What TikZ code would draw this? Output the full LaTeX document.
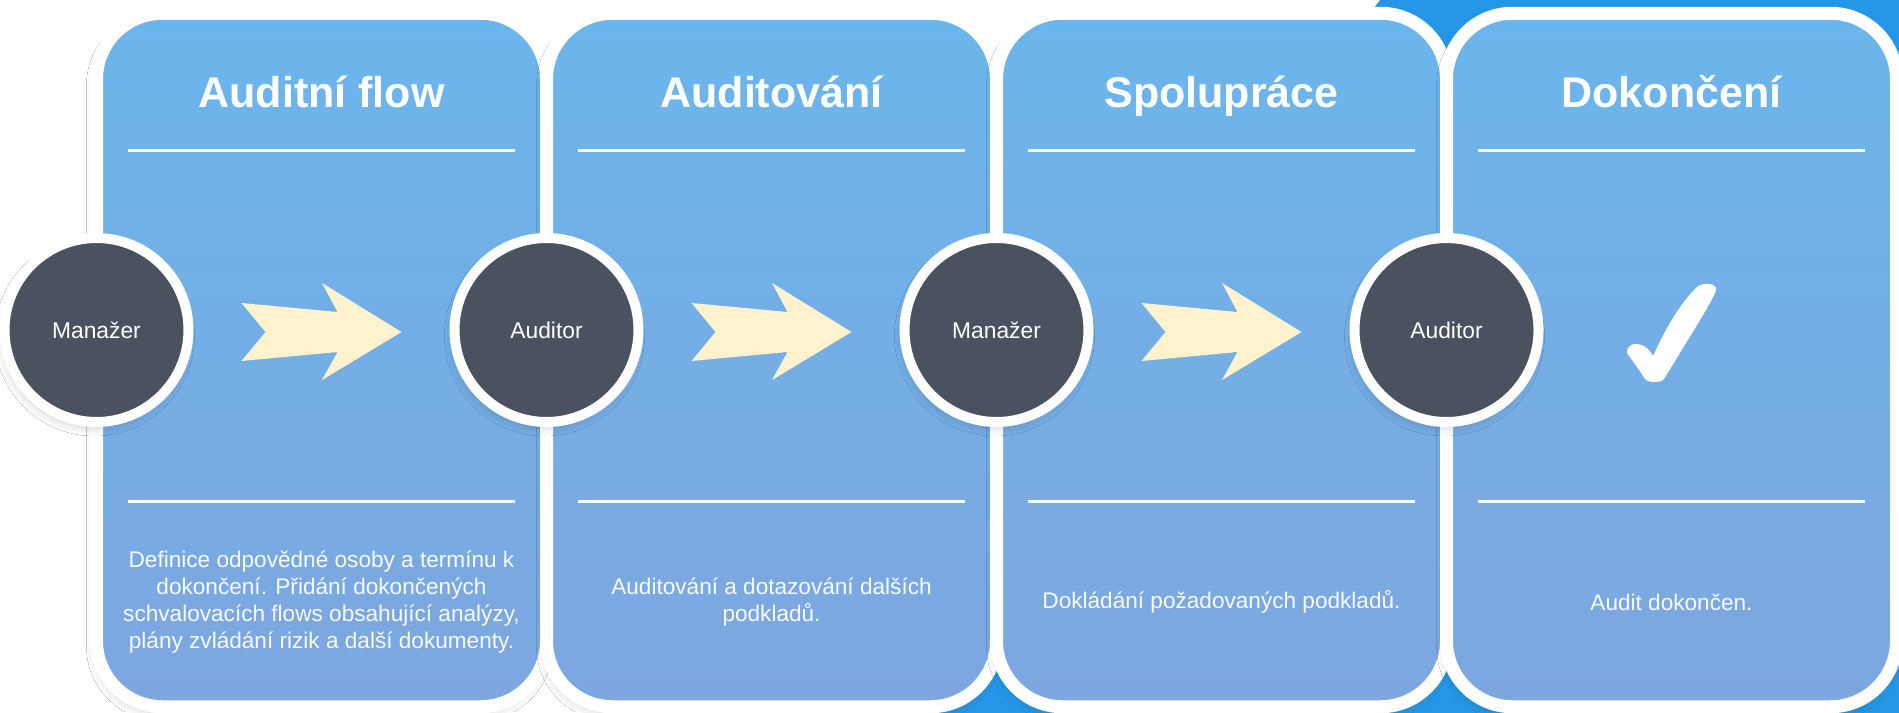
\documentclass[tikz,border=0pt]{standalone}
\usepackage{fontspec}
\setmainfont{Liberation Sans}
\usepackage{xcolor}
\usepackage{tikz}
\usetikzlibrary{calc,shadows.blur}
\definecolor{PT}{HTML}{6AB6EC}
\definecolor{PB}{HTML}{7EA6DF}
\definecolor{BG}{HTML}{2596E6}
\definecolor{CI}{HTML}{4A5260}
\definecolor{AR}{HTML}{FFF2CC}
\tikzset{%
  panel/.style={draw=white, line width=6.5pt, rounded corners=33pt, top color=PT, bottom color=PB, minimum width=225pt, minimum height=346.75pt, inner sep=0pt, blur shadow={shadow xshift=-1pt, shadow yshift=-3pt, shadow blur radius=4pt, shadow opacity=18}},%
  role/.style={circle, draw=white, line width=5pt, fill=CI, minimum size=92pt, inner sep=0pt, text=white, font=\fontsize{11.4}{13}\selectfont, blur shadow={shadow xshift=-1pt, shadow yshift=-3pt, shadow blur radius=4pt, shadow opacity=18}},%
  steptitle/.style={anchor=base, text=white, font=\fontsize{21.5}{26}\selectfont\bfseries},%
  steptext/.style={align=center, text=white!95!PT, font=\fontsize{11.3}{13.6}\selectfont},%
  steprule/.style={draw=white, line width=1.5pt},%
  blockarrow/.pic={\fill[AR] (-80,-29) -- (16,-20) -- (0.5,-49) -- (80,0) -- (0.5,48) -- (16,20) -- (-80,29) -- (-56,0) -- cycle;}%
}

\begin{document}
\begin{tikzpicture}[x=0.5pt, y=-0.5pt]%
\useasboundingbox (0,0) rectangle (1899,712);%
\fill[white] (0,0) rectangle (1899,712);%
\fill[BG] (1380,0) -- (1905,0) -- (1905,715) -- (848,715) -- cycle;%
% panels
\node[panel] (p1) at (321.5,360) {};%
\node[panel] (p2) at (771.5,360) {};%
\node[panel] (p3) at (1221.5,360) {};%
\node[panel] (p4) at (1671.5,360) {};%
% titles and rules
\node[steptitle] (t1) at (321.5,107) {Auditní flow};%
\node[steptitle] (t2) at (771.5,107) {Auditování};%
\node[steptitle] (t3) at (1221.5,107) {Spolupráce};%
\node[steptitle] (t4) at (1671.5,107) {Dokončení};%
\draw[steprule] (128,150) -- (515,150);%
\draw[steprule] (578,150) -- (965,150);%
\draw[steprule] (1028,150) -- (1415,150);%
\draw[steprule] (1478,150) -- (1865,150);%
\draw[steprule] (128,501) -- (515,501);%
\draw[steprule] (578,501) -- (965,501);%
\draw[steprule] (1028,501) -- (1415,501);%
\draw[steprule] (1478,501) -- (1865,501);%
% descriptions
\node[steptext] (d1) at (321.5,602) {Definice odpovědné osoby a termínu k\\dokončení. Přidání dokončených\\schvalovacích flows obsahující analýzy,\\plány zvládání rizik a další dokumenty.};%
\node[steptext] (d2) at (771.5,602) {Auditování a dotazování dalších\\podkladů.};%
\node[steptext] (d3) at (1221.5,602) {Dokládání požadovaných podkladů.};%
\node[steptext] (d4) at (1671.5,602) {Audit dokončen.};%
% roles
\node[role] (m1) at (96.5,330) {Manažer};%
\node[role] (a1) at (546.5,330) {Auditor};%
\node[role] (m2) at (996.5,330) {Manažer};%
\node[role] (a2) at (1446.5,330) {Auditor};%
\pic at ($(m1)!0.5!(a1)+(0,2)$) {blockarrow};%
\pic at ($(a1)!0.5!(m2)+(0,2)$) {blockarrow};%
\pic at ($(m2)!0.5!(a2)+(0,2)$) {blockarrow};%
% check
\fill[white] (1627,353) .. controls (1626,347) and (1632,343) .. (1638,344) .. controls (1645,345) and (1650,350) .. (1653,356) .. controls (1665,330) and (1680,303) .. (1697,287) .. controls (1703,282) and (1714,283) .. (1716,288) .. controls (1718,292) and (1700,320) .. (1664,379) .. controls (1661,383) and (1648,383) .. (1645,379) .. controls (1638,368) and (1632,360) .. (1627,353) -- cycle;%
\end{tikzpicture}
\end{document}
